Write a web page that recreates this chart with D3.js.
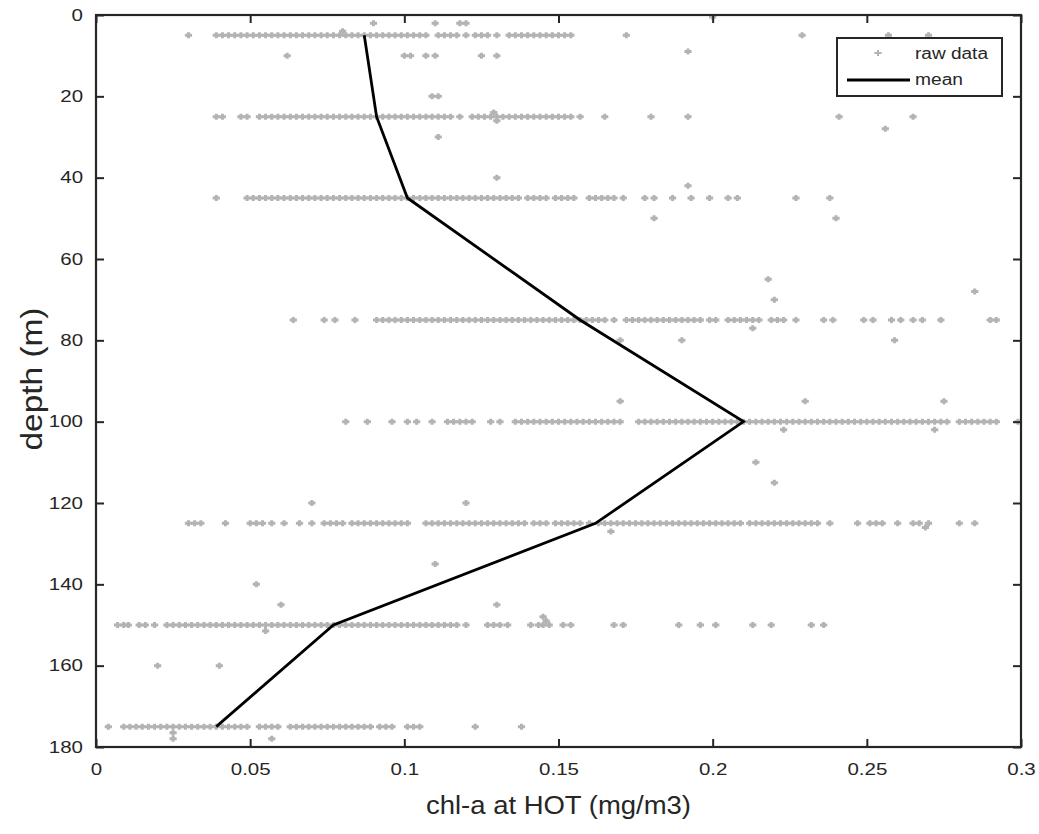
<!DOCTYPE html>
<html>
<head>
<meta charset="utf-8">
<script src="https://cdn.jsdelivr.net/npm/d3@7"></script>
<style>
  body { margin: 0; background: #fff; }
  svg { font-family: "Liberation Sans", Arial, Helvetica, sans-serif; }
</style>
</head>
<body>
<div id="chart"></div>
<script>
// mean profile
var meanDepth = [5, 25, 45, 75, 100, 125, 150, 175];
var meanChl = [0.087, 0.091, 0.101, 0.157, 0.210, 0.162, 0.077, 0.039];

// raw data at the standard sampling depths (chl-a, mg/m3)
var row5 = [0.030, 0.039, 0.041, 0.043, 0.045, 0.047, 0.049, 0.051, 0.053, 0.055, 0.057, 0.059, 0.061, 0.063, 0.065,
  0.067, 0.069, 0.071, 0.073, 0.075, 0.077, 0.079, 0.081, 0.083, 0.085, 0.087, 0.089, 0.091, 0.093, 0.095, 0.097, 0.099,
  0.101, 0.103, 0.105, 0.107, 0.111, 0.113, 0.115, 0.117, 0.120, 0.123, 0.125, 0.127, 0.130, 0.134, 0.136, 0.138, 0.140,
  0.142, 0.144, 0.146, 0.148, 0.150, 0.152, 0.154, 0.172, 0.229, 0.257, 0.270];
var row25 = [0.039, 0.041, 0.047, 0.049, 0.053, 0.055, 0.057, 0.059, 0.061, 0.063, 0.065, 0.067, 0.069, 0.071, 0.073,
  0.075, 0.077, 0.079, 0.081, 0.083, 0.085, 0.087, 0.089, 0.091, 0.093, 0.095, 0.097, 0.099, 0.101, 0.103, 0.105, 0.107,
  0.109, 0.111, 0.113, 0.115, 0.118, 0.122, 0.124, 0.126, 0.128, 0.130, 0.132, 0.134, 0.136, 0.138, 0.140, 0.142, 0.144,
  0.146, 0.148, 0.150, 0.152, 0.154, 0.157, 0.165, 0.180, 0.192, 0.241, 0.265];
var row45 = [0.039, 0.049, 0.051, 0.053, 0.055, 0.057, 0.059, 0.061, 0.063, 0.065, 0.067, 0.069, 0.071, 0.073, 0.075,
  0.077, 0.079, 0.081, 0.083, 0.085, 0.087, 0.089, 0.091, 0.093, 0.095, 0.097, 0.099, 0.101, 0.103, 0.105, 0.107, 0.109,
  0.111, 0.113, 0.115, 0.117, 0.119, 0.121, 0.123, 0.125, 0.127, 0.129, 0.131, 0.133, 0.135, 0.137, 0.140, 0.142, 0.144,
  0.146, 0.149, 0.151, 0.153, 0.155, 0.160, 0.162, 0.164, 0.166, 0.168, 0.171, 0.178, 0.181, 0.187, 0.193, 0.199, 0.205,
  0.208, 0.227, 0.238];
var row75 = [0.064, 0.074, 0.0775, 0.084, 0.091, 0.093, 0.095, 0.097, 0.099, 0.101, 0.103, 0.105, 0.107, 0.109, 0.111,
  0.113, 0.115, 0.117, 0.119, 0.121, 0.123, 0.125, 0.127, 0.129, 0.131, 0.133, 0.135, 0.137, 0.139, 0.141, 0.143, 0.145,
  0.147, 0.149, 0.151, 0.153, 0.155, 0.157, 0.159, 0.161, 0.163, 0.165, 0.168, 0.172, 0.174, 0.176, 0.178, 0.180, 0.182,
  0.184, 0.186, 0.188, 0.190, 0.192, 0.194, 0.196, 0.199, 0.201, 0.205, 0.207, 0.209, 0.211, 0.213, 0.215, 0.219, 0.221,
  0.223, 0.227, 0.236, 0.239, 0.249, 0.252, 0.258, 0.261, 0.265, 0.268, 0.274, 0.290, 0.292];
var row100 = [0.081, 0.088, 0.096, 0.101, 0.104, 0.109, 0.114, 0.116, 0.118, 0.120, 0.122, 0.128, 0.131, 0.136, 0.138,
  0.140, 0.142, 0.144, 0.146, 0.148, 0.150, 0.152, 0.154, 0.156, 0.158, 0.160, 0.162, 0.164, 0.166, 0.168, 0.170, 0.176,
  0.178, 0.180, 0.182, 0.184, 0.186, 0.188, 0.190, 0.192, 0.194, 0.196, 0.198, 0.200, 0.202, 0.204, 0.206, 0.208, 0.210,
  0.212, 0.214, 0.216, 0.218, 0.220, 0.222, 0.224, 0.226, 0.228, 0.230, 0.232, 0.234, 0.236, 0.238, 0.240, 0.242, 0.244,
  0.246, 0.248, 0.250, 0.252, 0.254, 0.256, 0.258, 0.260, 0.262, 0.264, 0.266, 0.268, 0.270, 0.272, 0.274, 0.276, 0.280,
  0.282, 0.284, 0.286, 0.288, 0.290, 0.292, 0.299];
var row125 = [0.030, 0.032, 0.034, 0.042, 0.050, 0.052, 0.054, 0.057, 0.061, 0.066, 0.070, 0.074, 0.076, 0.078, 0.080,
  0.083, 0.085, 0.087, 0.089, 0.091, 0.093, 0.095, 0.097, 0.099, 0.101, 0.107, 0.109, 0.111, 0.113, 0.115, 0.117, 0.119,
  0.121, 0.123, 0.125, 0.127, 0.129, 0.131, 0.133, 0.135, 0.137, 0.139, 0.142, 0.144, 0.146, 0.149, 0.151, 0.153, 0.155,
  0.157, 0.160, 0.163, 0.165, 0.167, 0.169, 0.171, 0.173, 0.175, 0.177, 0.179, 0.181, 0.183, 0.185, 0.187, 0.189, 0.191,
  0.193, 0.195, 0.197, 0.199, 0.201, 0.203, 0.205, 0.207, 0.209, 0.212, 0.214, 0.216, 0.218, 0.220, 0.222, 0.224, 0.226,
  0.228, 0.230, 0.232, 0.234, 0.238, 0.247, 0.251, 0.253, 0.255, 0.260, 0.265, 0.267, 0.270, 0.280, 0.285];
var row150 = [0.007, 0.009, 0.0105, 0.014, 0.016, 0.019, 0.023, 0.025, 0.027, 0.029, 0.031, 0.033, 0.035, 0.037, 0.039,
  0.041, 0.043, 0.045, 0.047, 0.049, 0.051, 0.053, 0.055, 0.057, 0.059, 0.061, 0.063, 0.065, 0.067, 0.069, 0.071, 0.073,
  0.075, 0.077, 0.079, 0.081, 0.083, 0.085, 0.087, 0.089, 0.091, 0.093, 0.095, 0.097, 0.099, 0.101, 0.103, 0.105, 0.107,
  0.109, 0.111, 0.113, 0.115, 0.117, 0.120, 0.127, 0.129, 0.131, 0.1335, 0.141, 0.1435, 0.145, 0.147, 0.1515, 0.154,
  0.168, 0.171, 0.189, 0.196, 0.201, 0.213, 0.219, 0.232, 0.236];
var row175 = [0.004, 0.009, 0.011, 0.013, 0.015, 0.017, 0.019, 0.021, 0.023, 0.025, 0.027, 0.029, 0.031, 0.033, 0.035,
  0.037, 0.039, 0.041, 0.043, 0.045, 0.047, 0.049, 0.053, 0.055, 0.057, 0.059, 0.063, 0.065, 0.067, 0.069, 0.071, 0.073,
  0.075, 0.077, 0.079, 0.081, 0.083, 0.085, 0.087, 0.089, 0.092, 0.094, 0.096, 0.101, 0.103, 0.105, 0.123, 0.138];

// raw data off the standard depths: [chl-a, depth]
var offDepth = [[0.200, 0.5], [0.090, 2], [0.110, 2], [0.118, 2], [0.120, 2], [0.080, 4], [0.062, 10], [0.100, 10],
  [0.102, 10], [0.107, 10], [0.110, 10], [0.125, 10], [0.130, 10], [0.192, 9], [0.109, 20], [0.111, 20], [0.129, 24],
  [0.130, 26], [0.256, 28], [0.111, 30], [0.130, 40], [0.192, 42], [0.181, 50], [0.240, 50], [0.218, 65], [0.285, 68],
  [0.220, 70], [0.213, 77], [0.170, 80], [0.190, 80], [0.259, 80], [0.170, 95], [0.230, 95], [0.275, 95], [0.223, 102],
  [0.272, 102], [0.214, 110], [0.220, 115], [0.070, 120], [0.120, 120], [0.167, 127], [0.269, 126], [0.110, 135],
  [0.052, 140], [0.060, 145], [0.130, 145], [0.145, 148], [0.146, 149], [0.055, 151.5], [0.020, 160], [0.040, 160],
  [0.025, 176.5], [0.025, 178], [0.057, 178]];

var xTicks = [0, 0.05, 0.1, 0.15, 0.2, 0.25, 0.3];
var yTicks = [0, 20, 40, 60, 80, 100, 120, 140, 160, 180];

var width = 1039, height = 834;
var plotL = 96, plotR = 1021, plotT = 15, plotB = 747;
var ink = "#262626";

var svg = d3.select("#chart").append("svg").attr("width", width).attr("height", height);

var x = d3.scaleLinear().domain([0, 0.3]).range([plotL, plotR]);
var y = d3.scaleLinear().domain([0, 180]).range([plotT, plotB]);

// widen text glyphs like the reference rendering
function stretch(sel, k) {
  sel.each(function() {
    var L = this.getComputedTextLength();
    d3.select(this).attr("textLength", L * k).attr("lengthAdjust", "spacingAndGlyphs");
  });
}

// gather raw points
var raw = [];
[[5, row5], [25, row25], [45, row45], [75, row75], [100, row100], [125, row125], [150, row150], [175, row175]]
  .forEach(function(r) {
    r[1].forEach(function(v) { raw.push({chl: v, depth: r[0]}); });
  });
offDepth.forEach(function(p) { raw.push({chl: p[0], depth: p[1]}); });

var plus = "M-3.6,0H3.6M0,-3V3";
var gray = "#b3b3b3";

svg.append("g").selectAll("path").data(raw).enter().append("path")
  .attr("d", plus)
  .attr("transform", function(d) { return "translate(" + x(d.chl) + "," + y(d.depth) + ")"; })
  .attr("fill", "none")
  .attr("stroke", gray)
  .attr("stroke-width", 3);

var line = d3.line().x(function(d) { return x(d[0]); }).y(function(d) { return y(d[1]); });
svg.append("path")
  .datum(meanChl.map(function(c, i) { return [c, meanDepth[i]]; }))
  .attr("d", line)
  .attr("fill", "none")
  .attr("stroke", "#000")
  .attr("stroke-width", 2.8)
  .attr("stroke-linejoin", "miter");

// axes (ticks inward on all four sides)
var tickLen = 8;
var axBottom = d3.axisBottom(x).tickValues(xTicks).tickSize(-tickLen).tickPadding(17)
  .tickFormat(function(d) { return d === 0 ? "0" : String(+d.toFixed(2)); });
var axTop = d3.axisTop(x).tickValues(xTicks).tickSize(-tickLen).tickFormat("");
var axLeft = d3.axisLeft(y).tickValues(yTicks).tickSize(-tickLen).tickPadding(13);
var axRight = d3.axisRight(y).tickValues(yTicks).tickSize(-tickLen).tickFormat("");

function styleAxis(g) {
  g.select(".domain").remove();
  g.selectAll(".tick line").attr("stroke", ink).attr("stroke-width", 2);
  g.selectAll(".tick text").attr("fill", ink).style("font-size", "16px")
    .style("font-family", '"Liberation Sans", Arial, sans-serif');
}
var gB = svg.append("g").attr("transform", "translate(0," + plotB + ")").call(axBottom).call(styleAxis);
svg.append("g").attr("transform", "translate(0," + plotT + ")").call(axTop).call(styleAxis);
var gL = svg.append("g").attr("transform", "translate(" + plotL + ",0)").call(axLeft).call(styleAxis);
svg.append("g").attr("transform", "translate(" + plotR + ",0)").call(axRight).call(styleAxis);
stretch(gB.selectAll(".tick text").filter(function() { return this.textContent.length > 0; }), 1.28);
stretch(gL.selectAll(".tick text"), 1.28);

svg.append("rect")
  .attr("x", plotL).attr("y", plotT)
  .attr("width", plotR - plotL).attr("height", plotB - plotT)
  .attr("fill", "none").attr("stroke", ink).attr("stroke-width", 2.2);

// axis labels
svg.append("text")
  .attr("x", (plotL + plotR) / 2).attr("y", 814)
  .attr("text-anchor", "middle")
  .attr("fill", ink)
  .style("font-size", "26px")
  .attr("textLength", 265).attr("lengthAdjust", "spacingAndGlyphs")
  .text("chl-a at HOT (mg/m3)");

svg.append("text")
  .attr("transform", "translate(42," + 379 + ") rotate(-90)")
  .attr("text-anchor", "middle")
  .attr("fill", ink)
  .style("font-size", "29px")
  .attr("textLength", 143).attr("lengthAdjust", "spacingAndGlyphs")
  .text("depth (m)");

// legend
var leg = svg.append("g");
leg.append("rect")
  .attr("x", 837).attr("y", 38).attr("width", 165).attr("height", 58)
  .attr("fill", "#fff").attr("stroke", ink).attr("stroke-width", 2);
leg.append("path")
  .attr("d", plus)
  .attr("transform", "translate(878,53)")
  .attr("fill", "none").attr("stroke", gray).attr("stroke-width", 2);
leg.append("line")
  .attr("x1", 847).attr("x2", 910).attr("y1", 80).attr("y2", 80)
  .attr("stroke", "#000").attr("stroke-width", 2.8);
leg.append("text").attr("x", 915).attr("y", 59).attr("fill", ink).style("font-size", "16px")
  .attr("textLength", 73).attr("lengthAdjust", "spacingAndGlyphs").text("raw data");
leg.append("text").attr("x", 915).attr("y", 85).attr("fill", ink).style("font-size", "16px")
  .attr("textLength", 48).attr("lengthAdjust", "spacingAndGlyphs").text("mean");
</script>
</body>
</html>
